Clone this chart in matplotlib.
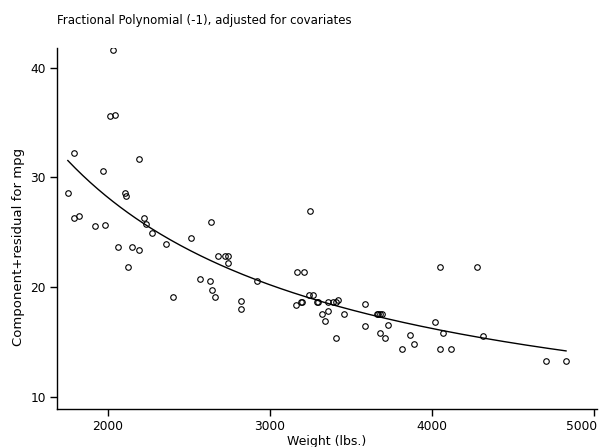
import numpy as np
import matplotlib
matplotlib.use("Agg")
import matplotlib.pyplot as plt
from matplotlib.transforms import ScaledTranslation

# weight (lbs.) and component+residual for mpg
weight = [2033, 2014, 2045, 1794, 2193, 1973, 1753, 2103, 2113,
          1794, 1825, 1923, 1983, 2224, 2235, 2273, 2064, 2152, 2193,
          2123, 2362, 2512, 2640, 2683, 2724, 2743, 2743, 2572, 2631,
          2642, 2664, 2403,
          3251, 3170, 3212, 2922, 2823, 2823, 3160, 3191, 3201, 3241,
          3269, 3290, 3300, 3360, 3391, 3411, 3422, 3360, 3321, 3341,
          3460, 3411, 3590, 3590, 3660, 3670, 3681, 3691, 3730, 3679,
          3710, 3819,
          4049, 4280, 4018, 4070, 4319, 3868, 3889, 4049, 4121, 4707, 4829]
cr_mpg = [41.6, 35.6, 35.7, 32.2, 31.7, 30.6, 28.6, 28.6, 28.3,
          26.3, 26.5, 25.6, 25.7, 26.3, 25.8, 24.9, 23.7, 23.7, 23.4,
          21.8, 23.9, 24.5, 25.9, 22.8, 22.8, 22.8, 22.2, 20.75, 20.55,
          19.75, 19.1, 19.1,
          26.9, 21.35, 21.35, 20.55, 18.75, 18.05, 18.35, 18.65, 18.65, 19.25,
          19.25, 18.65, 18.65, 18.65, 18.65, 18.65, 18.85, 17.85, 17.55, 16.9,
          17.6, 15.35, 18.45, 16.5, 17.6, 17.6, 17.6, 17.6, 16.55, 15.85,
          15.35, 14.35,
          21.8, 21.8, 16.8, 15.8, 15.55, 15.65, 14.85, 14.35, 14.35, 13.3, 13.3]

title = "Fractional Polynomial (-1), adjusted for covariates"
xticks = [2000, 3000, 4000, 5000]
yticks = [10, 20, 30, 40]

w = np.array(weight, dtype=float)
r = np.array(cr_mpg, dtype=float)

# FP(-1) fit: mpg ~ a + b / weight
b, a = np.polyfit(1.0 / w, r, 1)
grid = np.linspace(w.min(), w.max(), 200)

plt.rcParams['font.family'] = ['DejaVu Sans']
fig = plt.figure(figsize=(6.03, 4.47), dpi=100)
ax = fig.add_axes([0.0945, 0.085, 0.8955, 0.8076])

ax.plot(w, r, 'o', mfc='none', mec='black', ms=4, mew=0.8)
ax.plot(grid, a + b / grid, color='black', lw=1)

ax.set_xlim(1686, 5020)
ax.set_ylim(8.9, 41.8)
ax.set_xticks(xticks)
ax.set_yticks(yticks)
for s in ['top', 'right']:
    ax.spines[s].set_visible(False)
for s in ['left', 'bottom']:
    ax.spines[s].set_linewidth(1)
ax.tick_params(direction='out', length=5, width=1, labelsize=8.8, pad=3)

# last x label sits a bit left of its tick so it stays inside the figure
last = ax.get_xticklabels()[-1]
last.set_transform(last.get_transform() + ScaledTranslation(-0.12, 0, fig.dpi_scale_trans))

ax.set_xlabel("Weight (lbs.)", fontsize=9, labelpad=1)
ax.set_ylabel("Component+residual for mpg", fontsize=9.5)
ax.yaxis.set_label_coords(-0.06, 0.45)
fig.text(0.0945, 0.955, title, fontsize=8.5, ha='left', va='center')

fig.savefig("out.png", dpi=100)
